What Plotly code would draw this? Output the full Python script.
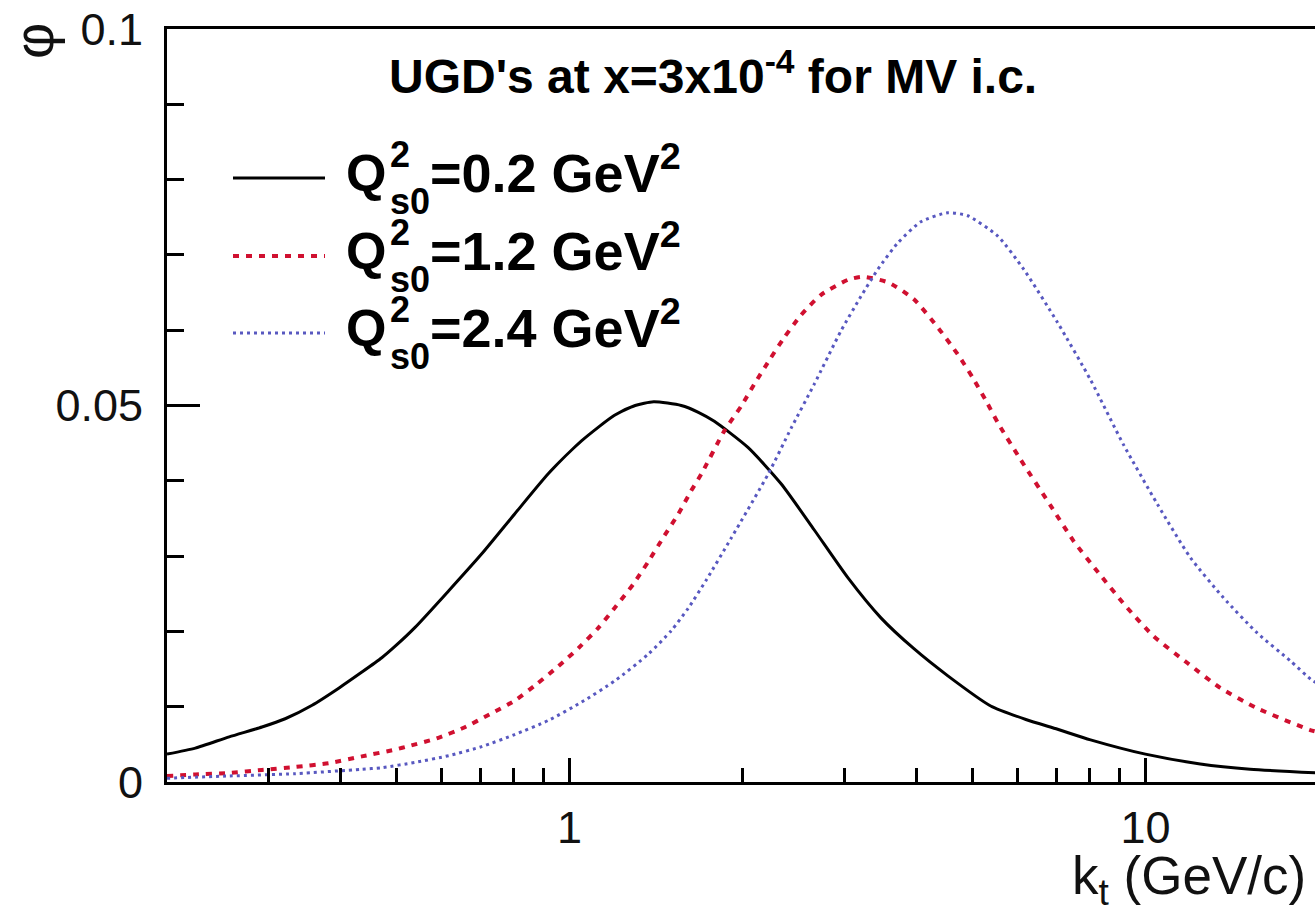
import numpy as np
import plotly.graph_objects as go

# Unintegrated gluon distributions phi(k_t) at x = 3e-4, MV initial condition
kt_q02 = [0.2, 0.224, 0.2565, 0.2924, 0.3208, 0.3573, 0.398, 0.436, 0.472, 0.4975,
          0.5387, 0.617, 0.704, 0.803, 0.920, 1.049, 1.197, 1.30, 1.40, 1.563, 1.674,
          1.784, 2.043, 2.330, 2.659, 3.045, 3.473, 3.963, 4.539, 5.387, 6.20, 7.04,
          8.03, 10.0, 12.45, 15.2, 20.0]
phi_q02 = [0.0037, 0.0045, 0.0060, 0.0073, 0.0084, 0.0102, 0.0125, 0.0146, 0.0165, 0.0180,
           0.0205, 0.0254, 0.0303, 0.0356, 0.0410, 0.0453, 0.0487, 0.0500, 0.0505, 0.0500, 0.0491,
           0.0479, 0.0444, 0.0396, 0.0335, 0.0271, 0.0218, 0.0177, 0.0141, 0.0101, 0.0083, 0.0070,
           0.0056, 0.0037, 0.0024, 0.0017, 0.0012]

kt_q12 = [0.2, 0.224, 0.2565, 0.2924, 0.334, 0.382, 0.436, 0.4975, 0.528, 0.588,
          0.655, 0.727, 0.803, 0.877, 0.957, 1.037, 1.123, 1.206, 1.291, 1.371,
          1.461, 1.545, 1.627, 1.694, 1.856, 1.986, 2.092, 2.222, 2.358, 2.523,
          2.734, 3.045, 3.233, 3.586, 3.963, 4.377, 4.722, 5.013, 5.28, 5.563,
          6.073, 6.845, 7.503, 8.286, 9.234, 10.32, 11.83, 13.49, 15.63, 19.32, 20.0]
phi_q12 = [0.0008, 0.0010, 0.0012, 0.0016, 0.0020, 0.0025, 0.0034, 0.0043, 0.0048, 0.0058,
           0.0072, 0.0090, 0.0108, 0.0130, 0.0154, 0.0178, 0.0205, 0.0234, 0.0263, 0.0293,
           0.0327, 0.0356, 0.0387, 0.0409, 0.0466, 0.0499, 0.0528, 0.0560, 0.0590, 0.0620,
           0.0647, 0.0667, 0.0671, 0.0663, 0.0641, 0.0602, 0.0568, 0.0537, 0.0507, 0.0475,
           0.0428, 0.0367, 0.0320, 0.0278, 0.0234, 0.0194, 0.0158, 0.0125, 0.0098, 0.0069, 0.0066]

kt_q24 = [0.2, 0.2565, 0.334, 0.436, 0.472, 0.5387, 0.617, 0.704, 0.803, 0.920,
          1.049, 1.197, 1.371, 1.502, 1.608, 1.727, 1.909, 2.213, 2.426, 2.659,
          2.960, 3.207, 3.432, 3.716, 4.074, 4.539, 4.914, 5.541, 6.145, 7.04,
          8.03, 9.16, 10.49, 11.97, 13.65, 15.63, 17.84, 19.47, 20.0]
phi_q24 = [0.0005, 0.0008, 0.0011, 0.0017, 0.0019, 0.0026, 0.0035, 0.0047, 0.0063, 0.0082,
           0.0106, 0.0134, 0.0170, 0.0201, 0.0231, 0.0268, 0.0324, 0.0409, 0.0470, 0.0528,
           0.0599, 0.0645, 0.0681, 0.0716, 0.0744, 0.0756, 0.0752, 0.0725, 0.0681, 0.0610,
           0.0534, 0.0448, 0.0369, 0.0298, 0.0245, 0.0198, 0.0161, 0.0135, 0.0130]

legend_values = ["0.2", "1.2", "2.4"]

FONT = "Liberation Sans, Arial, Helvetica, sans-serif"

# frame geometry in pixels
W, H = 1315, 913
L_PX, R_PX, T_PX, B_PX = 167, 1315, 29, 782


def paper_x(p):
    return (p - L_PX) / (R_PX - L_PX)


def paper_y(p):
    return (B_PX - p) / (B_PX - T_PX)


series = [
    (kt_q02, phi_q02, dict(color="black", width=3, dash="solid")),
    (kt_q12, phi_q12, dict(color="#d01030", width=4, dash="6px,7px")),
    (kt_q24, phi_q24, dict(color="#5858c0", width=3, dash="3px,4px")),
]

fig = go.Figure()
for kt, phi, line in series:
    fig.add_trace(go.Scatter(x=kt, y=phi, mode="lines",
                             line=dict(**line, shape="spline", smoothing=0.6),
                             showlegend=False, hoverinfo="skip"))

x_major = [1, 10]
x_minor = [0.3, 0.4, 0.5, 0.6, 0.7, 0.8, 0.9, 2, 3, 4, 5, 6, 7, 8, 9, 20]

fig.update_xaxes(
    type="log", range=[np.log10(0.2), np.log10(19.7)],
    tickmode="array", tickvals=x_major, ticktext=["1", "10"],
    ticks="inside", ticklen=24, tickwidth=3, tickcolor="black",
    minor=dict(tickmode="array", tickvals=x_minor, ticks="inside",
               ticklen=14, tickwidth=3, tickcolor="black", showgrid=False),
    showline=True, linecolor="black", linewidth=3, mirror=True,
    showgrid=False, zeroline=False,
    tickfont=dict(family=FONT, size=45, color="#111"),
    ticklabelstandoff=4,
)
fig.update_yaxes(
    range=[0, 0.1],
    tickmode="array", tickvals=[0, 0.05, 0.1], ticktext=["0", "0.05", "0.1"],
    ticks="inside", ticklen=33, tickwidth=3, tickcolor="black",
    minor=dict(dtick=0.01, ticks="inside", ticklen=17, tickwidth=3,
               tickcolor="black", showgrid=False),
    showline=True, linecolor="black", linewidth=3, mirror=False,
    showgrid=False, zeroline=False,
    tickfont=dict(family=FONT, size=45, color="#111"),
    ticklabelstandoff=12,
)

annotations = []
# header text
annotations.append(dict(
    text="<b>UGD's at x=3x10<sup>-4</sup> for MV i.c.</b>",
    x=paper_x(713), y=paper_y(73), xref="paper", yref="paper",
    xanchor="center", yanchor="middle", showarrow=False,
    font=dict(family=FONT, size=48, color="black")))
# axis titles
annotations.append(dict(
    text="φ", textangle=-90,
    x=paper_x(34), y=paper_y(41), xref="paper", yref="paper",
    xanchor="center", yanchor="middle", showarrow=False,
    font=dict(family=FONT, size=56, color="#111")))
annotations.append(dict(
    text="k<sub>t</sub> (GeV/c)",
    x=paper_x(1308), y=paper_y(880), xref="paper", yref="paper",
    xanchor="right", yanchor="middle", showarrow=False,
    font=dict(family=FONT, size=53, color="#111")))

# legend block: sample line, then Q with stacked superscript 2 / subscript s0
row_y = [178, 256, 333]
shapes = []
for (kt, phi, line), val, ry in zip(series, legend_values, row_y):
    shapes.append(dict(type="line", xref="paper", yref="paper",
                       x0=paper_x(233), x1=paper_x(325), y0=paper_y(ry), y1=paper_y(ry),
                       line=line))
    cap = ry - 5
    annotations.append(dict(text="<b>Q</b>", x=paper_x(345), y=paper_y(cap),
                            xref="paper", yref="paper", xanchor="left", yanchor="middle",
                            showarrow=False, borderpad=0,
                            font=dict(family=FONT, size=52, color="black")))
    annotations.append(dict(text="<b>2<br>s0</b>", x=paper_x(389), y=paper_y(cap + 5),
                            xref="paper", yref="paper", xanchor="left", yanchor="middle",
                            align="left", showarrow=False, borderpad=0,
                            font=dict(family=FONT, size=36, color="black")))
    annotations.append(dict(text=f"<b>={val} GeV<sup>2</sup></b>", x=paper_x(429), y=paper_y(cap - 4),
                            xref="paper", yref="paper", xanchor="left", yanchor="middle",
                            showarrow=False, borderpad=0,
                            font=dict(family=FONT, size=54, color="black")))

fig.update_layout(
    width=W, height=H,
    margin=dict(l=L_PX, r=W - R_PX, t=T_PX, b=H - B_PX),
    paper_bgcolor="white", plot_bgcolor="white",
    annotations=annotations, shapes=shapes,
    showlegend=False,
)

fig.write_html("out.html")
